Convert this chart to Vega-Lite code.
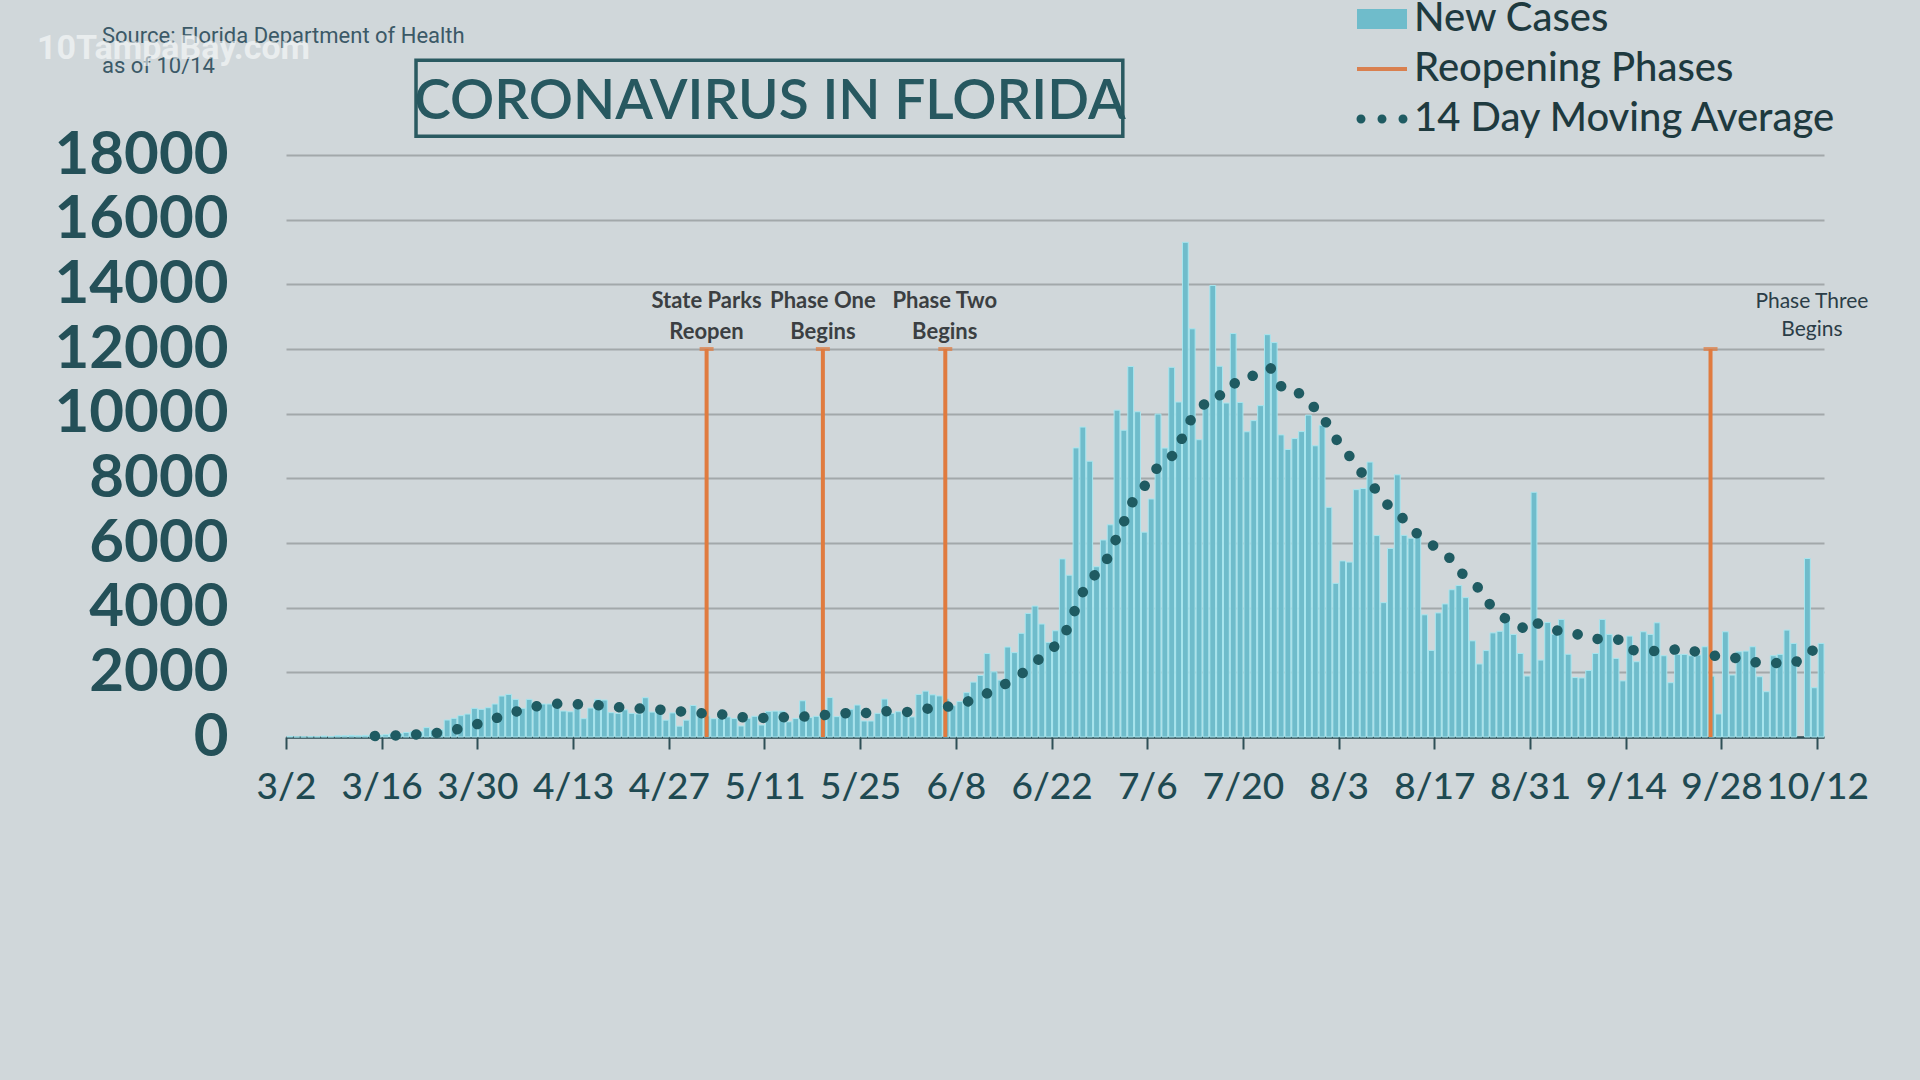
{
  "$schema": "https://vega.github.io/schema/vega-lite/v6.json",
  "width": 1538,
  "height": 582,
  "autosize": {"type": "none"},
  "padding": {"left": 286, "top": 155, "right": 96, "bottom": 343},
  "background": "#d0d7da",
  "config": {
    "view": {"stroke": null},
    "legend": {
      "orient": "none", "legendX": 1071, "legendY": -161, "padding": 0,
      "symbolSize": 2500, "symbolOpacity": 1, "symbolStrokeWidth": 0,
      "labelFont": "Lato", "labelFontSize": 40, "labelColor": "#1e3a3f", "labelFontWeight": 500,
      "labelOffset": 7, "rowPadding": 5, "labelLimit": 0
    }
  },
  "datasets": {
    "cases": [
      {"date":"2020-03-02","cases":20},{"date":"2020-03-03","cases":5},{"date":"2020-03-04","cases":5},{"date":"2020-03-05","cases":10},{"date":"2020-03-06","cases":10},{"date":"2020-03-07","cases":30},{"date":"2020-03-08","cases":10},{"date":"2020-03-09","cases":40},{"date":"2020-03-10","cases":40},{"date":"2020-03-11","cases":50},
      {"date":"2020-03-12","cases":40},{"date":"2020-03-13","cases":50},{"date":"2020-03-14","cases":60},{"date":"2020-03-15","cases":60},{"date":"2020-03-16","cases":70},{"date":"2020-03-17","cases":100},{"date":"2020-03-18","cases":110},{"date":"2020-03-19","cases":140},{"date":"2020-03-20","cases":160},{"date":"2020-03-21","cases":160},
      {"date":"2020-03-22","cases":290},{"date":"2020-03-23","cases":210},{"date":"2020-03-24","cases":220},{"date":"2020-03-25","cases":525},{"date":"2020-03-26","cases":577},{"date":"2020-03-27","cases":660},{"date":"2020-03-28","cases":710},{"date":"2020-03-29","cases":886},{"date":"2020-03-30","cases":855},{"date":"2020-03-31","cases":906},
      {"date":"2020-04-01","cases":1020},{"date":"2020-04-02","cases":1267},{"date":"2020-04-03","cases":1318},{"date":"2020-04-04","cases":1164},{"date":"2020-04-05","cases":886},{"date":"2020-04-06","cases":1164},{"date":"2020-04-07","cases":1040},{"date":"2020-04-08","cases":1020},{"date":"2020-04-09","cases":1020},{"date":"2020-04-10","cases":1071},
      {"date":"2020-04-11","cases":803},{"date":"2020-04-12","cases":780},{"date":"2020-04-13","cases":937},{"date":"2020-04-14","cases":566},{"date":"2020-04-15","cases":896},{"date":"2020-04-16","cases":1164},{"date":"2020-04-17","cases":1143},{"date":"2020-04-18","cases":752},{"date":"2020-04-19","cases":731},{"date":"2020-04-20","cases":840},
      {"date":"2020-04-21","cases":731},{"date":"2020-04-22","cases":715},{"date":"2020-04-23","cases":1215},{"date":"2020-04-24","cases":770},{"date":"2020-04-25","cases":800},{"date":"2020-04-26","cases":520},{"date":"2020-04-27","cases":745},{"date":"2020-04-28","cases":335},{"date":"2020-04-29","cases":520},{"date":"2020-04-30","cases":975},
      {"date":"2020-05-01","cases":725},{"date":"2020-05-02","cases":650},{"date":"2020-05-03","cases":566},{"date":"2020-05-04","cases":577},{"date":"2020-05-05","cases":620},{"date":"2020-05-06","cases":570},{"date":"2020-05-07","cases":340},{"date":"2020-05-08","cases":580},{"date":"2020-05-09","cases":640},{"date":"2020-05-10","cases":370},
      {"date":"2020-05-11","cases":790},{"date":"2020-05-12","cases":800},{"date":"2020-05-13","cases":800},{"date":"2020-05-14","cases":470},{"date":"2020-05-15","cases":570},{"date":"2020-05-16","cases":1120},{"date":"2020-05-17","cases":600},{"date":"2020-05-18","cases":640},{"date":"2020-05-19","cases":700},{"date":"2020-05-20","cases":1220},
      {"date":"2020-05-21","cases":630},{"date":"2020-05-22","cases":760},{"date":"2020-05-23","cases":856},{"date":"2020-05-24","cases":989},{"date":"2020-05-25","cases":494},{"date":"2020-05-26","cases":494},{"date":"2020-05-27","cases":731},{"date":"2020-05-28","cases":1174},{"date":"2020-05-29","cases":731},{"date":"2020-05-30","cases":783},
      {"date":"2020-05-31","cases":690},{"date":"2020-06-01","cases":620},{"date":"2020-06-02","cases":1317},{"date":"2020-06-03","cases":1419},{"date":"2020-06-04","cases":1305},{"date":"2020-06-05","cases":1270},{"date":"2020-06-06","cases":1180},{"date":"2020-06-07","cases":966},{"date":"2020-06-08","cases":1096},{"date":"2020-06-09","cases":1371},
      {"date":"2020-06-10","cases":1698},{"date":"2020-06-11","cases":1902},{"date":"2020-06-12","cases":2581},{"date":"2020-06-13","cases":2016},{"date":"2020-06-14","cases":1758},{"date":"2020-06-15","cases":2783},{"date":"2020-06-16","cases":2610},{"date":"2020-06-17","cases":3207},{"date":"2020-06-18","cases":3822},{"date":"2020-06-19","cases":4049},
      {"date":"2020-06-20","cases":3494},{"date":"2020-06-21","cases":2926},{"date":"2020-06-22","cases":3286},{"date":"2020-06-23","cases":5508},{"date":"2020-06-24","cases":5004},{"date":"2020-06-25","cases":8942},{"date":"2020-06-26","cases":9585},{"date":"2020-06-27","cases":8530},{"date":"2020-06-28","cases":5266},{"date":"2020-06-29","cases":6093},
      {"date":"2020-06-30","cases":6563},{"date":"2020-07-01","cases":10109},{"date":"2020-07-02","cases":9488},{"date":"2020-07-03","cases":11458},{"date":"2020-07-04","cases":10059},{"date":"2020-07-05","cases":6336},{"date":"2020-07-06","cases":7361},{"date":"2020-07-07","cases":9989},{"date":"2020-07-08","cases":8935},{"date":"2020-07-09","cases":11433},
      {"date":"2020-07-10","cases":10360},{"date":"2020-07-11","cases":15300},{"date":"2020-07-12","cases":12624},{"date":"2020-07-13","cases":9194},{"date":"2020-07-14","cases":10181},{"date":"2020-07-15","cases":13965},{"date":"2020-07-16","cases":11466},{"date":"2020-07-17","cases":10328},{"date":"2020-07-18","cases":12478},{"date":"2020-07-19","cases":10347},
      {"date":"2020-07-20","cases":9440},{"date":"2020-07-21","cases":9785},{"date":"2020-07-22","cases":10249},{"date":"2020-07-23","cases":12444},{"date":"2020-07-24","cases":12199},{"date":"2020-07-25","cases":9344},{"date":"2020-07-26","cases":8892},{"date":"2020-07-27","cases":9230},{"date":"2020-07-28","cases":9446},{"date":"2020-07-29","cases":9956},
      {"date":"2020-07-30","cases":9007},{"date":"2020-07-31","cases":9642},{"date":"2020-08-01","cases":7104},{"date":"2020-08-02","cases":4752},{"date":"2020-08-03","cases":5446},{"date":"2020-08-04","cases":5409},{"date":"2020-08-05","cases":7650},{"date":"2020-08-06","cases":7686},{"date":"2020-08-07","cases":8502},{"date":"2020-08-08","cases":6229},
      {"date":"2020-08-09","cases":4155},{"date":"2020-08-10","cases":5831},{"date":"2020-08-11","cases":8109},{"date":"2020-08-12","cases":6236},{"date":"2020-08-13","cases":6148},{"date":"2020-08-14","cases":6352},{"date":"2020-08-15","cases":3779},{"date":"2020-08-16","cases":2678},{"date":"2020-08-17","cases":3838},{"date":"2020-08-18","cases":4115},
      {"date":"2020-08-19","cases":4555},{"date":"2020-08-20","cases":4684},{"date":"2020-08-21","cases":4311},{"date":"2020-08-22","cases":2974},{"date":"2020-08-23","cases":2258},{"date":"2020-08-24","cases":2673},{"date":"2020-08-25","cases":3220},{"date":"2020-08-26","cases":3269},{"date":"2020-08-27","cases":3740},{"date":"2020-08-28","cases":3172},
      {"date":"2020-08-29","cases":2583},{"date":"2020-08-30","cases":1885},{"date":"2020-08-31","cases":7569},{"date":"2020-09-01","cases":2379},{"date":"2020-09-02","cases":3540},{"date":"2020-09-03","cases":3180},{"date":"2020-09-04","cases":3636},{"date":"2020-09-05","cases":2560},{"date":"2020-09-06","cases":1838},{"date":"2020-09-07","cases":1827},
      {"date":"2020-09-08","cases":2056},{"date":"2020-09-09","cases":2583},{"date":"2020-09-10","cases":3636},{"date":"2020-09-11","cases":3172},{"date":"2020-09-12","cases":2431},{"date":"2020-09-13","cases":1736},{"date":"2020-09-14","cases":3121},{"date":"2020-09-15","cases":2328},{"date":"2020-09-16","cases":3255},{"date":"2020-09-17","cases":3172},
      {"date":"2020-09-18","cases":3533},{"date":"2020-09-19","cases":2513},{"date":"2020-09-20","cases":1679},{"date":"2020-09-21","cases":2554},{"date":"2020-09-22","cases":2554},{"date":"2020-09-23","cases":2513},{"date":"2020-09-24","cases":2534},{"date":"2020-09-25","cases":2791},{"date":"2020-09-26","cases":1882},{"date":"2020-09-27","cases":711},
      {"date":"2020-09-28","cases":3255},{"date":"2020-09-29","cases":1916},{"date":"2020-09-30","cases":2637},{"date":"2020-10-01","cases":2657},{"date":"2020-10-02","cases":2791},{"date":"2020-10-03","cases":1864},{"date":"2020-10-04","cases":1401},{"date":"2020-10-05","cases":2513},{"date":"2020-10-06","cases":2554},{"date":"2020-10-07","cases":3306},
      {"date":"2020-10-08","cases":2894},{"date":"2020-10-09","cases":null},{"date":"2020-10-10","cases":5521},{"date":"2020-10-11","cases":1524},{"date":"2020-10-12","cases":2894}
    ],
    "phases": [
      {"phase":"State Parks Reopen","label":"State Parks\nReopen","date":"2020-05-02T12:45:00Z","labelAt":"2020-05-02T12:30:00Z"},
      {"phase":"Phase One Begins","label":"Phase One\nBegins","date":"2020-05-19T13:00:00Z","labelAt":"2020-05-19T13:00:00Z"},
      {"phase":"Phase Two Begins","label":"Phase Two\nBegins","date":"2020-06-06T10:48:00Z","labelAt":"2020-06-06T09:00:00Z"},
      {"phase":"Phase Three Begins","label":"Phase Three\nBegins","date":"2020-09-26T09:36:00Z","labelAt":"2020-10-11T05:30:00Z"}
    ],
    "notes": [
      {"kind":"title","text":"CORONAVIRUS IN FLORIDA","at":"2020-05-11T19:12:00Z","level":19629},
      {"kind":"source","text":"Source: Florida Department of Health","at":"2020-02-04T02:00:00Z","level":21669},
      {"kind":"source","text":"as of 10/14","at":"2020-02-04T02:00:00Z","level":20742},
      {"kind":"brand","text":"10TampaBay.com","at":"2020-01-25T13:40:00Z","level":21267}
    ],
    "frame": [
      {"from":"2020-03-21T00:30:00Z","to":"2020-07-02T10:05:00Z","top":20927,"bottom":18578}
    ],
    "keys": [
      {"series":"New Cases"},{"series":"Reopening Phases"},{"series":"14 Day Moving Average"}
    ]
  },
  "layer": [
    {
      "data": {"name": "cases"},
      "transform": [{"filter": "datum.cases != null"}],
      "mark": {"type": "bar", "color": "#6fbccb", "stroke": "#a8e6ef", "strokeWidth": 1},
      "encoding": {
        "x": {
          "field": "date", "type": "temporal", "timeUnit": "utcyearmonthdate",
          "scale": {"type": "utc", "nice": false, "domain": [{"year":2020,"month":3,"date":2,"utc":true},{"year":2020,"month":10,"date":13,"utc":true}]},
          "axis": {
            "title": null, "grid": false, "format": "%-m/%-d",
            "values": [
              {"year":2020,"month":3,"date":2,"utc":true},{"year":2020,"month":3,"date":16,"utc":true},{"year":2020,"month":3,"date":30,"utc":true},
              {"year":2020,"month":4,"date":13,"utc":true},{"year":2020,"month":4,"date":27,"utc":true},{"year":2020,"month":5,"date":11,"utc":true},
              {"year":2020,"month":5,"date":25,"utc":true},{"year":2020,"month":6,"date":8,"utc":true},{"year":2020,"month":6,"date":22,"utc":true},
              {"year":2020,"month":7,"date":6,"utc":true},{"year":2020,"month":7,"date":20,"utc":true},{"year":2020,"month":8,"date":3,"utc":true},
              {"year":2020,"month":8,"date":17,"utc":true},{"year":2020,"month":8,"date":31,"utc":true},{"year":2020,"month":9,"date":14,"utc":true},
              {"year":2020,"month":9,"date":28,"utc":true},{"year":2020,"month":10,"date":12,"utc":true}
            ],
            "domainColor": "#2e4f56", "domainWidth": 2.5, "tickColor": "#2e4f56", "tickWidth": 2, "tickSize": 12,
            "labelFont": "Lato", "labelFontSize": 37, "labelFontWeight": 500, "labelColor": "#1f4a52",
            "labelPadding": 20, "labelAngle": 0, "labelOverlap": false, "labelFlush": false
          }
        },
        "y": {
          "field": "cases", "type": "quantitative",
          "scale": {"domain": [0, 18000], "nice": false},
          "axis": {
            "title": null, "values": [0,2000,4000,6000,8000,10000,12000,14000,16000,18000], "format": "d", "labelLimit": 0,
            "domain": false, "ticks": false, "grid": true, "gridColor": "#a2a8aa", "gridWidth": 2,
            "labelFont": "Lato", "labelFontSize": 60, "labelFontWeight": "bold", "labelColor": "#245058", "labelPadding": 58
          }
        }
      }
    },
    {
      "data": {"name": "phases"},
      "mark": {"type": "rule", "color": "#e07b3f", "strokeWidth": 4},
      "encoding": {
        "x": {"field": "date", "type": "temporal"},
        "y": {"datum": 0},
        "y2": {"datum": 12000}
      }
    },
    {
      "data": {"name": "phases"},
      "mark": {"type": "tick", "orient": "horizontal", "color": "#e07b3f", "size": 14, "thickness": 4},
      "encoding": {
        "x": {"field": "date", "type": "temporal"},
        "y": {"datum": 12000}
      }
    },
    {
      "data": {"name": "cases"},
      "transform": [
        {"window": [{"op": "mean", "field": "cases", "as": "avg"}, {"op": "row_number", "as": "rn"}], "frame": [-13, 0], "sort": [{"field": "date", "order": "ascending"}]},
        {"filter": "datum.rn >= 14"}
      ],
      "mark": {"type": "line", "color": "#1f5b62", "strokeWidth": 10.5, "strokeCap": "round", "strokeDash": [0.1, 20.6], "timeUnitBandPosition": 0.5},
      "encoding": {
        "x": {"field": "date", "type": "temporal", "timeUnit": "utcyearmonthdate"},
        "y": {"field": "avg", "type": "quantitative"}
      }
    },
    {
      "data": {"name": "phases"},
      "transform": [{"filter": "datum.phase != 'Phase Three Begins'"}],
      "mark": {"type": "text", "font": "Lato", "fontSize": 22, "fontWeight": "bold", "color": "#3b3f42", "align": "center", "baseline": "middle", "lineBreak": "\n", "lineHeight": 31},
      "encoding": {
        "x": {"field": "labelAt", "type": "temporal"},
        "y": {"datum": 13480},
        "text": {"field": "label"}
      }
    },
    {
      "data": {"name": "phases"},
      "transform": [{"filter": "datum.phase == 'Phase Three Begins'"}],
      "mark": {"type": "text", "font": "Lato", "fontSize": 21, "color": "#2b3d47", "align": "center", "baseline": "middle", "lineBreak": "\n", "lineHeight": 28},
      "encoding": {
        "x": {"field": "labelAt", "type": "temporal"},
        "y": {"datum": 13450},
        "text": {"field": "label"}
      }
    },
    {
      "data": {"name": "frame"},
      "mark": {"type": "rect", "filled": false, "stroke": "#2a5a61", "strokeWidth": 3.5},
      "encoding": {
        "x": {"field": "from", "type": "temporal"},
        "x2": {"field": "to"},
        "y": {"field": "top", "type": "quantitative"},
        "y2": {"field": "bottom"}
      }
    },
    {
      "data": {"name": "notes"},
      "transform": [{"filter": "datum.kind == 'title'"}],
      "mark": {"type": "text", "font": "Lato", "fontSize": 55, "fontWeight": 600, "color": "#275860", "align": "center", "baseline": "middle"},
      "encoding": {
        "x": {"field": "at", "type": "temporal"},
        "y": {"field": "level", "type": "quantitative"},
        "text": {"field": "text"}
      }
    },
    {
      "data": {"name": "notes"},
      "transform": [{"filter": "datum.kind == 'source'"}],
      "mark": {"type": "text", "font": "Roboto", "fontSize": 22, "color": "#3b5967", "align": "left", "baseline": "middle"},
      "encoding": {
        "x": {"field": "at", "type": "temporal"},
        "y": {"field": "level", "type": "quantitative"},
        "text": {"field": "text"}
      }
    },
    {
      "data": {"name": "notes"},
      "transform": [{"filter": "datum.kind == 'brand'"}],
      "mark": {"type": "text", "font": "Roboto", "fontSize": 34, "fontWeight": "bold", "color": "#ffffff", "opacity": 0.55, "align": "left", "baseline": "middle"},
      "encoding": {
        "x": {"field": "at", "type": "temporal"},
        "y": {"field": "level", "type": "quantitative"},
        "text": {"field": "text"}
      }
    },
    {
      "data": {"name": "keys"},
      "mark": {"type": "point", "filled": true, "opacity": 0, "size": 2500},
      "encoding": {
        "color": {
          "field": "series", "type": "nominal",
          "scale": {"domain": ["New Cases", "Reopening Phases", "14 Day Moving Average"], "range": ["#6fbccb", "#d9804f", "#1f5b62"]},
          "legend": {"title": null}
        },
        "shape": {
          "field": "series", "type": "nominal",
          "scale": {"domain": ["New Cases", "Reopening Phases", "14 Day Moving Average"], "range": [
            "M-1,-0.4H1V0.4H-1Z",
            "M-1,-0.08H1V0.08H-1Z",
            "M-0.66,0A0.18,0.18 0 1,1 -1.02,0A0.18,0.18 0 1,1 -0.66,0Z M0.18,0A0.18,0.18 0 1,1 -0.18,0A0.18,0.18 0 1,1 0.18,0Z M1.02,0A0.18,0.18 0 1,1 0.66,0A0.18,0.18 0 1,1 1.02,0Z"
          ]},
          "legend": {"title": null}
        }
      }
    }
  ]
}
